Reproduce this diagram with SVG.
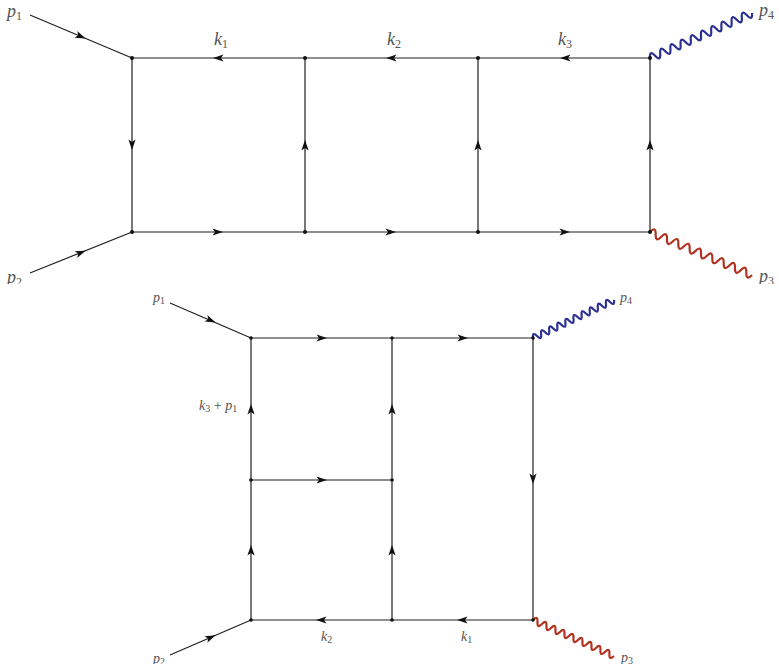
<svg xmlns="http://www.w3.org/2000/svg" xmlns:xlink="http://www.w3.org/1999/xlink" width="779" height="671" viewBox="0 0 779 671">
<style>
.ln{stroke:#1e1e1e;stroke-width:1.2;fill:none}
.blue{stroke:#2b3091;stroke-width:2.2;fill:none}
.red{stroke:#b1321f;stroke-width:2.2;fill:none}
.dot{fill:#111}
.ah{fill:#111}
.lb{font-family:"Liberation Serif",serif;font-style:italic;fill:#555}
.sb{font-style:normal}
.big{font-size:18px}
.big .sb{font-size:12px}
.sm{font-size:14px}
.sm .sb{font-size:10px}
.sm .op{font-style:normal;font-size:14px}
</style>
<defs>
<path id="ah" d="M5,0 L-5.5,-3.6 L-3,0 L-5.5,3.6 Z"/>
<clipPath id="ctop"><rect x="0" y="0" width="779" height="284"/></clipPath>
<clipPath id="cbot"><rect x="0" y="284" width="779" height="380"/></clipPath>
</defs>
<rect width="779" height="671" fill="#fff"/>
<g id="top" clip-path="url(#ctop)">
<g id="connectors-top">
<line class="ln" x1="30" y1="15" x2="132" y2="58"/>
<line class="ln" x1="30" y1="273" x2="132" y2="232"/>
<line class="ln" x1="132" y1="58" x2="650" y2="58"/>
<line class="ln" x1="132" y1="232" x2="650" y2="232"/>
<line class="ln" x1="132" y1="58" x2="132" y2="232"/>
<line class="ln" x1="305" y1="58" x2="305" y2="232"/>
<line class="ln" x1="478" y1="58" x2="478" y2="232"/>
<line class="ln" x1="650" y1="58" x2="650" y2="232"/>
<path class="blue" transform="translate(650,58) rotate(-23.81)" d="M0,0 q2.79,-8 5.575,0 t5.575,0 t5.575,0 t5.575,0 t5.575,0 t5.575,0 t5.575,0 t5.575,0 t5.575,0 t5.575,0 t5.575,0 t5.575,0 t5.575,0 t5.575,0 t5.575,0 t5.575,0 t5.575,0 t5.575,0 t5.575,0 t5.575,0"/>
<path class="red" transform="translate(650,232) rotate(22.86)" d="M0,0 q3.07,-8 6.15,0 t6.15,0 t6.15,0 t6.15,0 t6.15,0 t6.15,0 t6.15,0 t6.15,0 t6.15,0 t6.15,0 t6.15,0 t6.15,0 t6.15,0 t6.15,0 t6.15,0 t6.15,0 t6.15,0 t6.15,0"/>
<use href="#ah" class="ah" transform="translate(81,36.5) rotate(22.86)"/>
<use href="#ah" class="ah" transform="translate(81,252.5) rotate(-21.9)"/>
<use href="#ah" class="ah" transform="translate(218,58) rotate(180)"/>
<use href="#ah" class="ah" transform="translate(391,58) rotate(180)"/>
<use href="#ah" class="ah" transform="translate(565,58) rotate(180)"/>
<use href="#ah" class="ah" transform="translate(218,232)"/>
<use href="#ah" class="ah" transform="translate(391,232)"/>
<use href="#ah" class="ah" transform="translate(565,232)"/>
<use href="#ah" class="ah" transform="translate(132,145) rotate(90)"/>
<use href="#ah" class="ah" transform="translate(305,145) rotate(-90)"/>
<use href="#ah" class="ah" transform="translate(478,145) rotate(-90)"/>
<use href="#ah" class="ah" transform="translate(650,145) rotate(-90)"/>
</g>
<g id="v1"><circle class="dot" cx="132" cy="58" r="2"/></g>
<g id="v2"><circle class="dot" cx="305" cy="58" r="2"/></g>
<g id="v3"><circle class="dot" cx="478" cy="58" r="2"/></g>
<g id="v4"><circle class="dot" cx="650" cy="58" r="2"/></g>
<g id="v5"><circle class="dot" cx="132" cy="232" r="2"/></g>
<g id="v6"><circle class="dot" cx="305" cy="232" r="2"/></g>
<g id="v7"><circle class="dot" cx="478" cy="232" r="2"/></g>
<g id="v8"><circle class="dot" cx="650" cy="232" r="2"/></g>
<g id="labels-top">
<text class="lb big" x="7" y="17">p<tspan class="sb" dy="3">1</tspan></text>
<text class="lb big" x="7" y="283">p<tspan class="sb" dy="3">2</tspan></text>
<text class="lb big" x="759" y="282">p<tspan class="sb" dy="3">3</tspan></text>
<text class="lb big" x="759" y="16">p<tspan class="sb" dy="3">4</tspan></text>
<text class="lb big" x="214" y="45">k<tspan class="sb" dy="3">1</tspan></text>
<text class="lb big" x="387" y="45">k<tspan class="sb" dy="3">2</tspan></text>
<text class="lb big" x="558" y="45">k<tspan class="sb" dy="3">3</tspan></text>
</g>
</g>
<g id="bottom" clip-path="url(#cbot)">
<g id="connectors-bottom">
<line class="ln" x1="170" y1="303" x2="251" y2="338"/>
<line class="ln" x1="170" y1="655" x2="251" y2="620"/>
<line class="ln" x1="251" y1="338" x2="533" y2="338"/>
<line class="ln" x1="251" y1="480" x2="392" y2="480"/>
<line class="ln" x1="251" y1="620" x2="533" y2="620"/>
<line class="ln" x1="251" y1="338" x2="251" y2="620"/>
<line class="ln" x1="392" y1="338" x2="392" y2="620"/>
<line class="ln" x1="533" y1="338" x2="533" y2="620"/>
<path class="blue" transform="translate(533,338) rotate(-25.13)" d="M0,0 q2.24,-6.5 4.475,0 t4.475,0 t4.475,0 t4.475,0 t4.475,0 t4.475,0 t4.475,0 t4.475,0 t4.475,0 t4.475,0 t4.475,0 t4.475,0 t4.475,0 t4.475,0 t4.475,0 t4.475,0 t4.475,0 t4.475,0 t4.475,0 t4.475,0"/>
<path class="red" transform="translate(533,620) rotate(23.96)" d="M0,0 q2.46,-6.5 4.92,0 t4.92,0 t4.92,0 t4.92,0 t4.92,0 t4.92,0 t4.92,0 t4.92,0 t4.92,0 t4.92,0 t4.92,0 t4.92,0 t4.92,0 t4.92,0 t4.92,0 t4.92,0 t4.92,0 t4.92,0"/>
<use href="#ah" class="ah" transform="translate(211,320.5) rotate(23.37)"/>
<use href="#ah" class="ah" transform="translate(211,637.3) rotate(-23.37)"/>
<use href="#ah" class="ah" transform="translate(322,338)"/>
<use href="#ah" class="ah" transform="translate(463,338)"/>
<use href="#ah" class="ah" transform="translate(322,480)"/>
<use href="#ah" class="ah" transform="translate(321,620) rotate(180)"/>
<use href="#ah" class="ah" transform="translate(462,620) rotate(180)"/>
<use href="#ah" class="ah" transform="translate(251,409) rotate(-90)"/>
<use href="#ah" class="ah" transform="translate(251,550) rotate(-90)"/>
<use href="#ah" class="ah" transform="translate(392,409) rotate(-90)"/>
<use href="#ah" class="ah" transform="translate(392,550) rotate(-90)"/>
<use href="#ah" class="ah" transform="translate(533,479) rotate(90)"/>
</g>
<g id="w1"><circle class="dot" cx="251" cy="338" r="1.8"/></g>
<g id="w2"><circle class="dot" cx="392" cy="338" r="1.8"/></g>
<g id="w3"><circle class="dot" cx="533" cy="338" r="1.8"/></g>
<g id="w4"><circle class="dot" cx="251" cy="480" r="1.8"/></g>
<g id="w5"><circle class="dot" cx="392" cy="480" r="1.8"/></g>
<g id="w6"><circle class="dot" cx="251" cy="620" r="1.8"/></g>
<g id="w7"><circle class="dot" cx="392" cy="620" r="1.8"/></g>
<g id="w8"><circle class="dot" cx="533" cy="620" r="1.8"/></g>
<g id="labels-bottom">
<text class="lb sm" x="153" y="302">p<tspan class="sb" dy="2">1</tspan></text>
<text class="lb sm" x="153" y="663">p<tspan class="sb" dy="2">2</tspan></text>
<text class="lb sm" x="621" y="662">p<tspan class="sb" dy="2">3</tspan></text>
<text class="lb sm" x="620" y="302">p<tspan class="sb" dy="2">4</tspan></text>
<text class="lb sm" x="199" y="410">k<tspan class="sb" dy="2">3</tspan><tspan class="op" dy="-2"> + </tspan>p<tspan class="sb" dy="2">1</tspan></text>
<text class="lb sm" x="321" y="641">k<tspan class="sb" dy="2">2</tspan></text>
<text class="lb sm" x="461" y="641">k<tspan class="sb" dy="2">1</tspan></text>
</g>
</g>
</svg>
